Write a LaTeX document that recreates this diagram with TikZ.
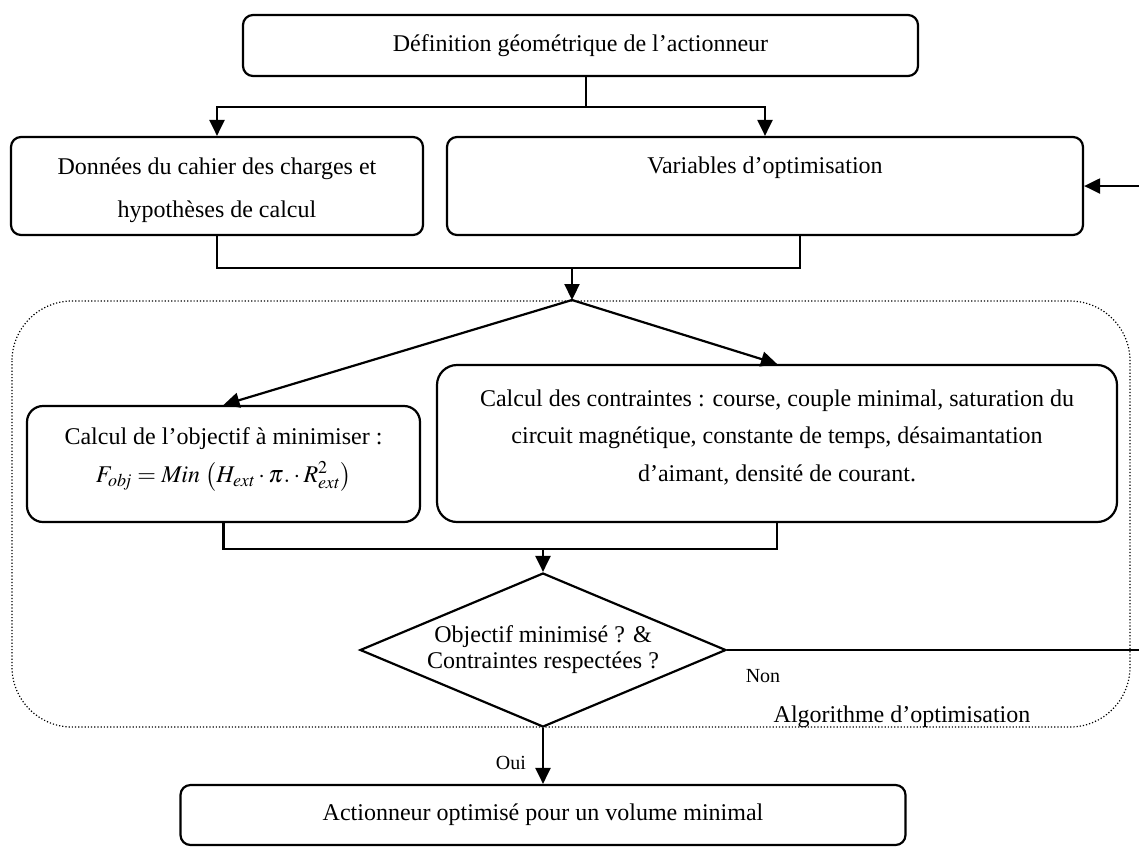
\documentclass[tikz,border=0pt]{standalone}
\usepackage{mathptmx}
\usepackage{fontspec}
\setmainfont{Liberation Serif}
\usetikzlibrary{arrows.meta,shapes.geometric}
\tikzset{
  block/.style={draw,rounded corners=5pt,align=center,inner sep=0pt,font=\fontsize{12}{21.5}\selectfont},
  decision/.style={draw,diamond,shape aspect=2.38,align=center,inner sep=0pt,minimum width=183pt,minimum height=77pt,font=\fontsize{12}{13}\selectfont},
  region/.style={densely dotted,line width=0.6pt,rounded corners=30pt},
  lab/.style={inner sep=0pt,font=\fontsize{10}{12}\selectfont}
}
\begin{document}
\begin{tikzpicture}[x=0.5pt,y=-0.5pt,>={Triangle[length=8pt,width=7.5pt]},line width=1.1pt]
  \useasboundingbox (0,0) rectangle (1139,848);
  \draw[region] (12,301) rectangle (1130,727);
  \node[lab,font=\fontsize{12}{14}\selectfont] (algo) at (902,717) {Algorithme d’optimisation};

  \node[block,minimum width=337.5pt,minimum height=30.5pt] (def) at (580.5,45.5) {Définition géométrique de l’actionneur};
  \node[block,minimum width=206pt,minimum height=49pt,text height=34pt] (data) at (217,186) {Données du cahier des charges et\\hypothèses de calcul};
  \node[block,minimum width=318pt,minimum height=49pt,text height=9pt,text depth=22pt] (var) at (765,186) {Variables d’optimisation};
  \node[block,rounded corners=8pt,minimum width=196.5pt,minimum height=58pt,font=\fontsize{12}{17}\selectfont,text depth=9pt] (obj) at (223.5,464) {Calcul de l’objectif à minimiser :\\[2pt]$F_{\mathit{obj}}=\mathit{Min}\,\left(H_{\mathit{ext}}\cdot\pi.\cdot R_{\mathit{ext}}^{2}\right)$};
  \node[block,rounded corners=10pt,minimum width=340pt,minimum height=78.5pt,font=\fontsize{12}{18.75}\selectfont,text depth=8pt] (cons) at (777,443.5) {Calcul des contraintes : course, couple minimal, saturation du\\circuit magnétique, constante de temps, désaimantation\\d’aimant, densité de courant.};
  \node[decision] (test) at (543,650) {Objectif minimisé ? \&\\Contraintes respectées ?};
  \node[block,minimum width=362.5pt,minimum height=30pt] (result) at (543,815) {Actionneur optimisé pour un volume minimal};

  \draw (def.south) ++(2.75pt,0) -- ++(0,30) coordinate (split);
  \draw[->] (split) -| (data.north);
  \draw[->] (split) -| (var.north);
  \draw (data.south) -- ++(0,32) -| ([xshift=17.5pt]var.south);
  \coordinate (join1) at (572,267);
  \coordinate (fork) at (572,300);
  \draw[->] (join1) -- (fork);
  \draw[->] (fork) -- (obj.north);
  \draw[->] (fork) -- (cons.north);
  \draw (obj.south) -- ++(0,26) -| (cons.south);
  \coordinate (join2) at (543,548);
  \draw[->] (join2) -- (test.north);
  \draw[->] (test.south) -- node[lab,pos=0.62,left=8pt] (yes) {Oui} (result.north);
  \coordinate (back) at (1145,650);
  \draw[->] (test.east) -- (back) |- (var.east);
  \node[lab] (no) at (763,676) {Non};
\end{tikzpicture}
\end{document}
